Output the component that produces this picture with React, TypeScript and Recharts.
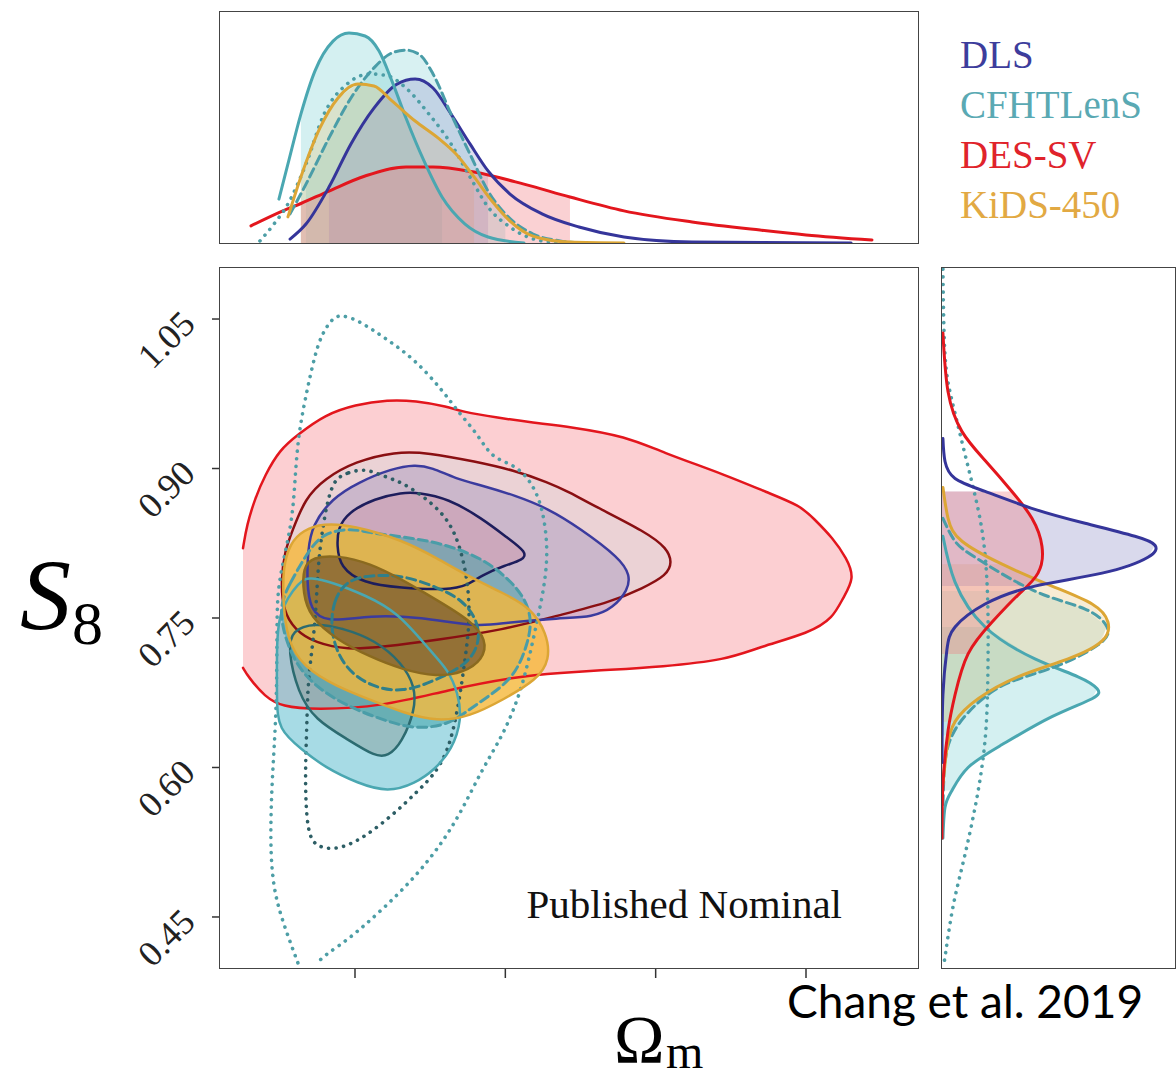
import React from 'react';
import { ScatterChart, Scatter, XAxis, YAxis } from 'recharts';

type Pt = [number, number];

// ---------------- axes ----------------
const OMEGA_DOMAIN: [number, number] = [0.1102, 0.5745];
const S8_DOMAIN: [number, number] = [0.3988, 1.1012];
const omegaTicks = [0.2, 0.3, 0.4, 0.5];
const s8Ticks = [0.45, 0.6, 0.75, 0.9, 1.05];
const legendLabels = ['DLS', 'CFHTLenS', 'DES-SV', 'KiDS-450'];

// ---------------- main panel contours [Omega_m, S8] ----------------
const desOuter: Pt[] = [
  [0.1255, 0.82], [0.128, 0.843], [0.1335, 0.87], [0.14, 0.893], [0.15, 0.919], [0.162, 0.934],
  [0.18, 0.954], [0.2, 0.964], [0.222, 0.969], [0.24, 0.968], [0.262, 0.962], [0.271, 0.957],
  [0.295, 0.951], [0.318, 0.946], [0.343, 0.942], [0.381, 0.932], [0.403, 0.917], [0.4475, 0.893],
  [0.474, 0.876], [0.496, 0.863], [0.505, 0.85], [0.518, 0.83], [0.527, 0.81], [0.5325, 0.79],
  [0.5245, 0.77], [0.518, 0.75], [0.5025, 0.735], [0.469, 0.721], [0.4475, 0.708], [0.403, 0.701],
  [0.37, 0.698], [0.336, 0.695], [0.3065, 0.691], [0.262, 0.678], [0.218, 0.661], [0.1735, 0.658],
  [0.1515, 0.661], [0.14, 0.671], [0.129, 0.691], [0.1255, 0.7],
];
const desInner: Pt[] = [
  [0.158, 0.836], [0.1667, 0.87], [0.18, 0.89], [0.2, 0.907], [0.2266, 0.917], [0.2486, 0.916],
  [0.28, 0.907], [0.3064, 0.898], [0.3284, 0.886], [0.343, 0.876], [0.3583, 0.863], [0.394, 0.836],
  [0.4075, 0.82], [0.411, 0.806], [0.4075, 0.793], [0.3916, 0.78], [0.37, 0.766], [0.3364, 0.753],
  [0.2985, 0.738], [0.2545, 0.728], [0.218, 0.721], [0.1953, 0.718], [0.1734, 0.725], [0.16, 0.738],
  [0.152, 0.758], [0.1508, 0.788], [0.1534, 0.818],
];
const dlsOuter: Pt[] = [
  [0.1714, 0.843], [0.1847, 0.87], [0.202, 0.886], [0.2246, 0.9], [0.24, 0.904], [0.2512, 0.901],
  [0.2665, 0.89], [0.2845, 0.883], [0.3064, 0.873], [0.3284, 0.86], [0.3497, 0.84], [0.3763, 0.81],
  [0.383, 0.793], [0.3816, 0.778], [0.3716, 0.76], [0.3583, 0.751], [0.3364, 0.75], [0.2985, 0.745],
  [0.2812, 0.741], [0.2432, 0.751], [0.21, 0.753], [0.1814, 0.745], [0.17, 0.758], [0.168, 0.788],
  [0.1687, 0.818],
];
const dlsInner: Pt[] = [
  [0.1887, 0.84], [0.1953, 0.856], [0.2133, 0.87], [0.2313, 0.876], [0.242, 0.876], [0.2619, 0.87],
  [0.2845, 0.85], [0.3018, 0.83], [0.3144, 0.816], [0.3118, 0.808], [0.2998, 0.803], [0.2845, 0.793],
  [0.2752, 0.783], [0.2619, 0.778], [0.23, 0.78], [0.2053, 0.785], [0.19, 0.801], [0.188, 0.823],
];
const cfhtOuter: Pt[] = [
  [0.1488, 0.756], [0.1634, 0.788], [0.17, 0.791], [0.1847, 0.786], [0.2067, 0.773], [0.2286, 0.756],
  [0.2512, 0.715], [0.2619, 0.698], [0.2685, 0.675], [0.2712, 0.648], [0.2645, 0.618], [0.2532, 0.598],
  [0.24, 0.584], [0.222, 0.575], [0.202, 0.584], [0.18, 0.6], [0.1647, 0.618], [0.1488, 0.638],
  [0.148, 0.668], [0.148, 0.718],
];
const cfhtInner: Pt[] = [
  [0.1734, 0.745], [0.1914, 0.74], [0.2133, 0.728], [0.2313, 0.705], [0.24, 0.681], [0.24, 0.658],
  [0.2313, 0.625], [0.222, 0.611], [0.2133, 0.611], [0.1953, 0.628], [0.1734, 0.648], [0.162, 0.675],
  [0.1554, 0.718], [0.158, 0.738],
];
const cfhtDashOuter: Pt[] = [
  [0.148, 0.758], [0.1568, 0.785], [0.168, 0.815], [0.1787, 0.836], [0.1987, 0.84], [0.2067, 0.836],
  [0.24, 0.83], [0.2619, 0.823], [0.2845, 0.81], [0.3018, 0.79], [0.3131, 0.77], [0.3177, 0.748],
  [0.3151, 0.725], [0.3064, 0.691], [0.2885, 0.671], [0.2732, 0.655], [0.2619, 0.643], [0.24, 0.638],
  [0.218, 0.648], [0.1953, 0.661], [0.1734, 0.681], [0.158, 0.708],
];
const cfhtDashInner: Pt[] = [
  [0.1834, 0.735], [0.1854, 0.768], [0.1947, 0.788], [0.21, 0.793], [0.2319, 0.793], [0.2545, 0.781],
  [0.2718, 0.768], [0.2812, 0.748], [0.2832, 0.728], [0.2765, 0.705], [0.2545, 0.688], [0.2319, 0.675],
  [0.21, 0.681], [0.192, 0.701],
];
const cfhtDotOuter: Pt[] = [
  [0.162, 0.404], [0.1514, 0.447], [0.1455, 0.48], [0.1435, 0.524], [0.1448, 0.59], [0.148, 0.658],
  [0.148, 0.75], [0.1488, 0.786], [0.158, 0.843], [0.16, 0.886], [0.162, 0.93], [0.1667, 0.969],
  [0.1734, 1.015], [0.178, 1.035], [0.1854, 1.052], [0.1914, 1.054], [0.202, 1.049], [0.222, 1.029],
  [0.24, 1.009], [0.2579, 0.979], [0.2685, 0.957], [0.2818, 0.934], [0.2911, 0.91], [0.3064, 0.904],
  [0.3177, 0.886], [0.325, 0.86], [0.3284, 0.82], [0.3264, 0.786], [0.3217, 0.75], [0.3131, 0.691],
  [0.3064, 0.661], [0.2978, 0.631], [0.2845, 0.598], [0.2712, 0.557], [0.2579, 0.524], [0.24, 0.49],
  [0.218, 0.457], [0.1953, 0.427], [0.182, 0.414], [0.1747, 0.404],
];
const cfhtDotInner: Pt[] = [
  [0.1867, 0.89], [0.1953, 0.896], [0.2067, 0.9], [0.218, 0.893], [0.2313, 0.886], [0.2446, 0.873],
  [0.2579, 0.856], [0.2665, 0.836], [0.2718, 0.81], [0.2752, 0.783], [0.2765, 0.748], [0.2732, 0.708],
  [0.2685, 0.658], [0.2619, 0.615], [0.2512, 0.59], [0.24, 0.574], [0.2286, 0.557], [0.2067, 0.53],
  [0.1887, 0.517], [0.1734, 0.52], [0.168, 0.537], [0.1667, 0.59], [0.168, 0.641], [0.1687, 0.691],
  [0.1734, 0.738], [0.1754, 0.803], [0.178, 0.836], [0.182, 0.87],
];
const kidsOuter: Pt[] = [
  [0.1654, 0.838], [0.1787, 0.845], [0.1987, 0.843], [0.2319, 0.828], [0.2545, 0.81], [0.2765, 0.791],
  [0.2985, 0.775], [0.3164, 0.761], [0.3277, 0.735], [0.3297, 0.708], [0.3211, 0.688], [0.2985, 0.668],
  [0.2765, 0.651], [0.2545, 0.646], [0.2319, 0.655], [0.21, 0.668], [0.188, 0.681], [0.1654, 0.701],
  [0.1548, 0.728], [0.1521, 0.768], [0.1521, 0.801], [0.1568, 0.825],
];
const kidsInner: Pt[] = [
  [0.1654, 0.801], [0.172, 0.811], [0.188, 0.813], [0.21, 0.805], [0.2319, 0.788], [0.2545, 0.768],
  [0.2765, 0.748], [0.2878, 0.728], [0.2851, 0.708], [0.2718, 0.695], [0.2545, 0.691], [0.2319, 0.698],
  [0.21, 0.711], [0.188, 0.728], [0.17, 0.751], [0.1654, 0.775],
];

// ---------------- top panel: Omega_m marginals [Omega_m, density] ----------------
const omDLS: Pt[] = [
  [0.1568, 0.017], [0.1674, 0.082], [0.1827, 0.242], [0.1973, 0.429], [0.2126, 0.584], [0.2279, 0.688],
  [0.24, 0.71], [0.2519, 0.671], [0.2639, 0.558], [0.2765, 0.429], [0.2885, 0.312], [0.3031, 0.212],
  [0.3244, 0.126], [0.349, 0.069], [0.3789, 0.026], [0.4242, 0.004], [0.53, 0],
];
const omCFHT: Pt[] = [
  [0.1494, 0.19], [0.1554, 0.342], [0.164, 0.558], [0.1734, 0.745], [0.1854, 0.874], [0.196, 0.909],
  [0.2067, 0.896], [0.216, 0.831], [0.2246, 0.701], [0.2339, 0.541], [0.2459, 0.355], [0.2579, 0.199],
  [0.2732, 0.082], [0.2885, 0.026], [0.3124, 0],
];
const omCFHTDash: Pt[] = [
  [0.1568, 0.126], [0.1674, 0.255], [0.1827, 0.455], [0.1973, 0.628], [0.2126, 0.758], [0.2246, 0.823],
  [0.2339, 0.835], [0.2432, 0.814], [0.2519, 0.732], [0.2639, 0.558], [0.2765, 0.385], [0.2885, 0.225],
  [0.3, 0.126], [0.3184, 0.039], [0.3364, 0.009], [0.349, 0],
];
const omCFHTDot: Pt[] = [
  [0.1368, 0.009], [0.1461, 0.082], [0.1554, 0.169], [0.1674, 0.342], [0.1794, 0.558], [0.1947, 0.688],
  [0.21, 0.732], [0.222, 0.723], [0.2339, 0.671], [0.2492, 0.558], [0.2639, 0.429], [0.2765, 0.286],
  [0.2885, 0.156], [0.3031, 0.069], [0.3244, 0.009], [0.343, 0],
];
const omDES: Pt[] = [
  [0.1308, 0.074], [0.152, 0.139], [0.164, 0.171], [0.1827, 0.225], [0.2067, 0.29], [0.2339, 0.329],
  [0.2519, 0.329], [0.2792, 0.307], [0.3124, 0.255], [0.343, 0.199], [0.3789, 0.139], [0.4242, 0.091],
  [0.4694, 0.056], [0.5, 0.035], [0.5439, 0.013],
];
const omKiDS: Pt[] = [
  [0.1554, 0.113], [0.164, 0.286], [0.1767, 0.498], [0.1887, 0.628], [0.202, 0.688], [0.2126, 0.68],
  [0.2246, 0.615], [0.24, 0.528], [0.2552, 0.455], [0.2672, 0.385], [0.2792, 0.286], [0.2911, 0.182],
  [0.3031, 0.095], [0.3184, 0.03], [0.343, 0.004], [0.3789, 0],
];
// shaded Omega_m intervals [lo, hi]
const omBandDLS: Pt = [0.1827, 0.2885];
const omBandCFHT: Pt = [0.164, 0.2579];
const omBandCFHTDash: Pt = [0.1674, 0.3];
const omBandDES: Pt = [0.164, 0.343];
const omBandKiDS: Pt = [0.164, 0.2792];

// ---------------- right panel: S8 marginals [density, S8] ----------------
const s8DLS: Pt[] = [
  [0.004, 0.93], [0.013, 0.907], [0.056, 0.89], [0.185, 0.877], [0.399, 0.859], [0.614, 0.845],
  [0.828, 0.832], [0.914, 0.823], [0.884, 0.811], [0.687, 0.795], [0.399, 0.782], [0.185, 0.764],
  [0.056, 0.741], [0.021, 0.718], [0.004, 0.673], [0, 0.605],
];
const s8DES: Pt[] = [
  [0.004, 1.036], [0.026, 0.977], [0.086, 0.937], [0.185, 0.908], [0.3, 0.877], [0.386, 0.85],
  [0.429, 0.822], [0.412, 0.795], [0.326, 0.773], [0.215, 0.746], [0.112, 0.714], [0.056, 0.673],
  [0.026, 0.637], [0.004, 0.583], [0, 0.529],
];
const s8KiDS: Pt[] = [
  [0.004, 0.881], [0.026, 0.85], [0.086, 0.827], [0.258, 0.804], [0.472, 0.782], [0.644, 0.764],
  [0.712, 0.746], [0.687, 0.727], [0.541, 0.709], [0.326, 0.691], [0.155, 0.669], [0.056, 0.646],
  [0.021, 0.619], [0.004, 0.583],
];
const s8CFHTDash: Pt[] = [
  [0.004, 0.85], [0.056, 0.827], [0.155, 0.809], [0.399, 0.777], [0.614, 0.759], [0.708, 0.741],
  [0.67, 0.723], [0.472, 0.7], [0.258, 0.682], [0.112, 0.655], [0.043, 0.632], [0.013, 0.605],
  [0.004, 0.56],
];
const s8CFHT: Pt[] = [
  [0.004, 0.832], [0.056, 0.786], [0.185, 0.741], [0.399, 0.709], [0.584, 0.691], [0.666, 0.679],
  [0.644, 0.669], [0.472, 0.651], [0.258, 0.623], [0.112, 0.6], [0.043, 0.577], [0.013, 0.56],
  [0.004, 0.529],
];
const s8CFHTDot: Pt[] = [
  [0.004, 1.1], [0.013, 1.014], [0.043, 0.968], [0.099, 0.914], [0.155, 0.859], [0.185, 0.813],
  [0.197, 0.759], [0.197, 0.696], [0.185, 0.628], [0.142, 0.56], [0.086, 0.5], [0.043, 0.455],
  [0.013, 0.41], [0.004, 0.4],
];
// shaded S8 intervals [lo, hi]
const s8BandDLS: Pt = [0.782, 0.877];
const s8BandDES: Pt = [0.714, 0.877];
const s8BandKiDS: Pt = [0.646, 0.804];
const s8BandCFHT: Pt = [0.577, 0.741];
const s8BandCFHTDash: Pt = [0.632, 0.777];

// ---------------- colours ----------------
const C = {
  dls: '#3b3b9e', dlsIn: '#1d1d5c',
  cfht: '#4aa7b1', cfhtIn: '#2c6b70', cfhtDash: '#4a9da8', cfhtDashIn: '#2f7f8a',
  cfhtDot: '#4d9ea6', cfhtDotIn: '#2d5e65',
  des: '#e3161d', desIn: '#8a0f12',
  kids: '#dca635', kidsIn: '#8a6a1f',
};
const legendColors = ['#3d3d9c', '#5aa9b3', '#e0232b', '#e2a943'];

// ---------------- helpers ----------------
const toXY = (pts: Pt[]) => pts.map(([x, y]) => ({ x, y }));
const NoDot = () => <g />;
const NoTick = () => <g />;

const underX = (pts: Pt[], band: Pt): Pt[] => {
  const sub = pts.filter(([x]) => x >= band[0] && x <= band[1]);
  return [...sub, [sub[sub.length - 1][0], 0], [sub[0][0], 0]];
};
const underY = (pts: Pt[], band: Pt): Pt[] => {
  const sub = pts.filter(([, y]) => y >= band[0] && y <= band[1]);
  return [...sub, [0, sub[sub.length - 1][1]], [0, sub[0][1]]];
};

function fillS(key: string, pts: Pt[], fill: string, opacity: number, joint: any = 'basisClosed') {
  return (
    <Scatter
      key={key}
      data={toXY(pts)}
      shape={NoDot}
      isAnimationActive={false}
      legendType="none"
      lineType="joint"
      lineJointType={joint}
      line={{ fill, fillOpacity: opacity, stroke: 'none' }}
    />
  );
}

function strokeS(key: string, pts: Pt[], stroke: string, width: number, joint: any = 'basisClosed', dash?: string) {
  return (
    <Scatter
      key={key}
      data={toXY(pts)}
      shape={NoDot}
      isAnimationActive={false}
      legendType="none"
      lineType="joint"
      lineJointType={joint}
      line={{
        fill: 'none',
        stroke,
        strokeWidth: width,
        strokeDasharray: dash,
        strokeLinecap: 'round',
        strokeLinejoin: 'round',
      }}
    />
  );
}

const DOT = '0.1 7.5';
const DASH = '9 5';

const YTick = (props: any) => {
  const { x, y, payload } = props;
  const ax = x - 13;
  const ay = y + 7;
  return (
    <text
      x={ax}
      y={ay}
      textAnchor="end"
      transform={`rotate(-45 ${ax} ${ay})`}
      fontFamily="'Liberation Serif', serif"
      fontSize={36}
      fill="#222"
    >
      {Number(payload.value).toFixed(2)}
    </text>
  );
};

const frame = (left: number, top: number, w: number, h: number): React.CSSProperties => ({
  position: 'absolute',
  left,
  top,
  width: w,
  height: h,
  border: '1.5px solid #444',
  boxSizing: 'border-box',
  pointerEvents: 'none',
});

export default function App() {
  return (
    <div style={{ position: 'absolute', left: 0, top: 0, width: 1176, height: 1079, background: '#fff', overflow: 'hidden' }}>
      {/* main panel */}
      <div style={{ position: 'absolute', left: 100, top: 250 }}>
        <ScatterChart width={840} height={760} margin={{ top: 18, right: 22, bottom: 41, left: 119 }}>
          <XAxis
            type="number"
            dataKey="x"
            domain={OMEGA_DOMAIN}
            allowDataOverflow
            ticks={omegaTicks}
            tick={NoTick}
            tickLine={{ stroke: '#333', strokeWidth: 1.5 }}
            tickSize={10}
            axisLine={false}
            height={1}
          />
          <YAxis
            type="number"
            dataKey="y"
            domain={S8_DOMAIN}
            allowDataOverflow
            ticks={s8Ticks}
            tick={<YTick />}
            tickLine={{ stroke: '#333', strokeWidth: 1.5 }}
            tickSize={8}
            axisLine={false}
            width={1}
          />
          {fillS('f-des-o', desOuter, '#f9a0a5', 0.5, 'basis')}
          {fillS('f-des-i', desInner, '#d6d4da', 0.45)}
          {fillS('f-dls-o', dlsOuter, '#3d3d9e', 0.18)}
          {fillS('f-dls-i', dlsInner, '#d07080', 0.2)}
          {fillS('f-cf-o', cfhtOuter, '#4fb8cc', 0.5)}
          {fillS('f-cf-i', cfhtInner, '#7a8a80', 0.35)}
          {fillS('f-cfd-o', cfhtDashOuter, '#3aa0a6', 0.5)}
          {fillS('f-cfd-i', cfhtDashInner, '#2a7a86', 0.3)}
          {fillS('f-kids-o', kidsOuter, '#f5b83a', 0.8)}
          {fillS('f-kids-i', kidsInner, '#5a3a20', 0.55)}

          {strokeS('s-des-o', desOuter, C.des, 2.5, 'basis')}
          {strokeS('s-des-i', desInner, C.desIn, 2.5)}
          {strokeS('s-dls-o', dlsOuter, C.dls, 2.5)}
          {strokeS('s-dls-i', dlsInner, C.dlsIn, 2.5)}
          {strokeS('s-dot-o', cfhtDotOuter, C.cfhtDot, 3.6, 'basis', DOT)}
          {strokeS('s-dot-i', cfhtDotInner, C.cfhtDotIn, 3.6, 'basisClosed', DOT)}
          {strokeS('s-cf-o', cfhtOuter, C.cfht, 2.5)}
          {strokeS('s-cf-i', cfhtInner, C.cfhtIn, 2.5)}
          {strokeS('s-cfd-o', cfhtDashOuter, C.cfhtDash, 3, 'basisClosed', DASH)}
          {strokeS('s-cfd-i', cfhtDashInner, C.cfhtDashIn, 3, 'basisClosed', DASH)}
          {strokeS('s-kids-o', kidsOuter, C.kids, 2.5)}
          {strokeS('s-kids-i', kidsInner, C.kidsIn, 2.5)}
        </ScatterChart>
      </div>

      {/* top panel */}
      <div style={{ position: 'absolute', left: 220, top: 12 }}>
        <ScatterChart width={698} height={231} margin={{ top: 0, right: 0, bottom: 0, left: 0 }}>
          <XAxis type="number" dataKey="x" domain={OMEGA_DOMAIN} allowDataOverflow hide />
          <YAxis type="number" dataKey="y" domain={[0, 1]} allowDataOverflow hide />
          {fillS('tf-cf', underX(omCFHT, omBandCFHT), '#64c8cd', 0.28, 'linear')}
          {fillS('tf-cfd', underX(omCFHTDash, omBandCFHTDash), '#64c8cd', 0.25, 'linear')}
          {fillS('tf-kids', underX(omKiDS, omBandKiDS), '#e8b860', 0.25, 'linear')}
          {fillS('tf-dls', underX(omDLS, omBandDLS), '#8080c0', 0.25, 'linear')}
          {fillS('tf-des', underX(omDES, omBandDES), '#f07a80', 0.35, 'linear')}
          {strokeS('ts-des', omDES, C.des, 3, 'monotoneX')}
          {strokeS('ts-dls', omDLS, '#35359a', 3, 'monotoneX')}
          {strokeS('ts-dot', omCFHTDot, C.cfhtDot, 3.6, 'monotoneX', DOT)}
          {strokeS('ts-cfd', omCFHTDash, C.cfhtDash, 3, 'monotoneX', DASH)}
          {strokeS('ts-cf', omCFHT, C.cfht, 3, 'monotoneX')}
          {strokeS('ts-kids', omKiDS, C.kids, 3, 'monotoneX')}
        </ScatterChart>
      </div>

      {/* right panel */}
      <div style={{ position: 'absolute', left: 942, top: 268 }}>
        <ScatterChart width={233} height={700} margin={{ top: 0, right: 0, bottom: 0, left: 0 }}>
          <XAxis type="number" dataKey="x" domain={[0, 1]} allowDataOverflow hide />
          <YAxis type="number" dataKey="y" domain={S8_DOMAIN} allowDataOverflow hide />
          {fillS('rf-cf', underY(s8CFHT, s8BandCFHT), '#64c8cd', 0.28, 'linear')}
          {fillS('rf-cfd', underY(s8CFHTDash, s8BandCFHTDash), '#64c8cd', 0.22, 'linear')}
          {fillS('rf-kids', underY(s8KiDS, s8BandKiDS), '#e8c070', 0.3, 'linear')}
          {fillS('rf-dls', underY(s8DLS, s8BandDLS), '#8080c0', 0.3, 'linear')}
          {fillS('rf-des', underY(s8DES, s8BandDES), '#f07a80', 0.35, 'linear')}
          {strokeS('rs-dot', s8CFHTDot, C.cfhtDot, 3.6, 'natural', DOT)}
          {strokeS('rs-cf', s8CFHT, C.cfht, 3, 'natural')}
          {strokeS('rs-cfd', s8CFHTDash, C.cfhtDash, 3, 'natural', DASH)}
          {strokeS('rs-kids', s8KiDS, C.kids, 3, 'natural')}
          {strokeS('rs-des', s8DES, C.des, 3, 'natural')}
          {strokeS('rs-dls', s8DLS, '#35359a', 3, 'natural')}
        </ScatterChart>
      </div>

      {/* frames */}
      <div style={frame(219, 11, 700, 233)} />
      <div style={frame(219, 267, 700, 702)} />
      <div style={frame(941, 267, 235, 702)} />

      {/* text overlay */}
      <svg width={1176} height={1079} style={{ position: 'absolute', left: 0, top: 0, pointerEvents: 'none' }}>
        {legendLabels.map((t, i) => (
          <text key={t} x={960} y={68 + i * 50} fontFamily="'Liberation Serif', serif" fontSize={39} fill={legendColors[i]}>
            {t}
          </text>
        ))}
        <text x={842} y={918} textAnchor="end" fontFamily="'Liberation Serif', serif" fontSize={41} fill="#111">
          Published Nominal
        </text>
        <text x={787} y={1018} fontFamily="Lato, sans-serif" fontSize={46} fill="#000">
          Chang et al. 2019
        </text>
        <text x={20} y={630} fontFamily="'Liberation Serif', serif" fontStyle="italic" fontSize={102} fill="#000">
          S
        </text>
        <text x={72} y={644} fontFamily="'Liberation Serif', serif" fontSize={62} fill="#000">
          8
        </text>
        <text x={614} y={1062} fontFamily="'Liberation Serif', serif" fontSize={68} fill="#000">
          Ω
        </text>
        <text x={666} y={1068} fontFamily="'Liberation Serif', serif" fontSize={48} fill="#000">
          m
        </text>
      </svg>
    </div>
  );
}
